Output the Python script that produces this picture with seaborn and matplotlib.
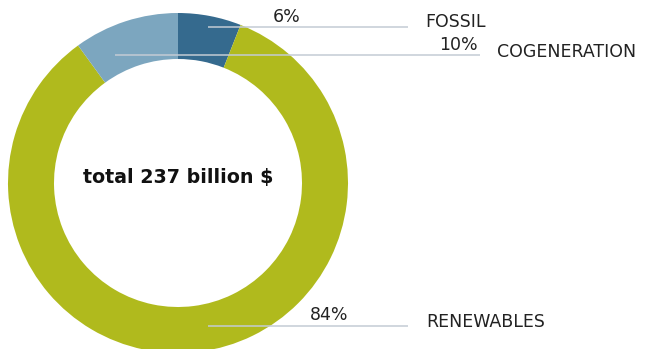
import matplotlib
matplotlib.use("Agg")
import matplotlib.pyplot as plt
import seaborn as sns

# Investment shares (percent), clockwise from the top
categories = ["FOSSIL", "RENEWABLES", "COGENERATION"]
shares = [6, 84, 10]
pct_labels = ["6%", "84%", "10%"]
total_label = "total 237 billion $"

sns.set_theme(style="white")
plt.rcParams["font.family"] = ["DejaVu Sans"]

colors = ["#356a8e", "#b0ba1d", "#7ca6bf"]

W, H = 647, 349
fig = plt.figure(figsize=(W / 100, H / 100), dpi=100)
ax = fig.add_axes([0, 0, 1, 1])

cx, cy, r_out, r_in = 178, 349 - 183, 170, 124
ax.pie(shares, colors=colors, startangle=90, counterclock=False,
       radius=r_out, center=(cx, cy),
       wedgeprops=dict(width=r_out - r_in, linewidth=0))
ax.set_xlim(0, W)
ax.set_ylim(0, H)
ax.set_aspect("auto")
ax.axis("off")

def py(y):
    return H - y

line_kw = dict(color="#c3cbd4", lw=1.1, solid_capstyle="butt", zorder=5)
txt_kw = dict(color="#222222", fontsize=12.5, zorder=6)

# leader lines: (x0, x1, y) in pixel coordinates
leaders = {
    "FOSSIL": (208, 408, 27),
    "COGENERATION": (115, 480, 55),
    "RENEWABLES": (208, 408, 326),
}
for name, (x0, x1, y) in leaders.items():
    ax.plot([x0, x1], [py(y), py(y)], **line_kw)

# percentages
ax.text(287, py(22), pct_labels[0], ha="center", va="baseline", **txt_kw)
ax.text(478, py(50), pct_labels[2], ha="right", va="baseline", **txt_kw)
ax.text(329, py(320), pct_labels[1], ha="center", va="baseline", **txt_kw)

# category names
ax.text(425, py(27), categories[0], ha="left", va="baseline", **txt_kw)
ax.text(497, py(57), categories[2], ha="left", va="baseline", **txt_kw)
ax.text(426, py(327), categories[1], ha="left", va="baseline", **txt_kw)

ax.text(178, py(183), total_label, ha="center", va="baseline",
        fontsize=13.7, fontweight="bold",
        color="#111111", zorder=6)

fig.savefig("out.png", dpi=100, facecolor="white")
